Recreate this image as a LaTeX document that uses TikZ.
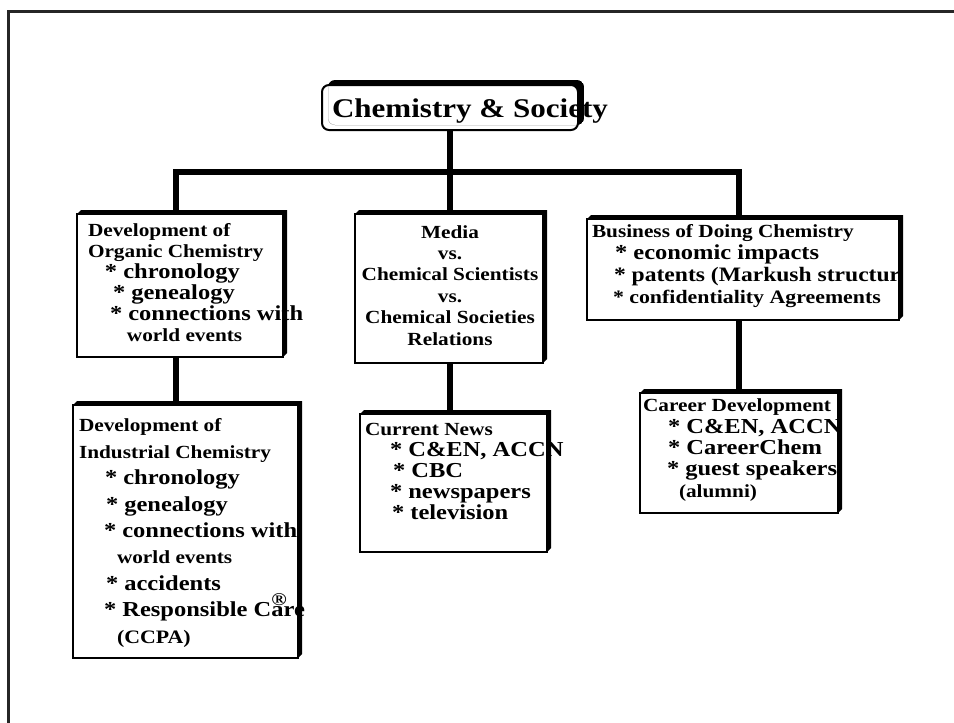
\documentclass[tikz,border=0pt]{standalone}
\usepackage{fontspec}
\setmainfont{Liberation Serif}[FakeStretch=1.15]
\newdimen\myls
\newcommand\setls[1]{\global\myls=#1\relax}
\newcommand\hdf{\fontsize{18.5pt}{\myls}\selectfont}
\newcommand\itf{\fontsize{21.3pt}{\myls}\selectfont}
\newcommand\boxedge[1]{%
  \fill[black] (#1.north west) -- ([shift={(4,-4)}]#1.north west) -- ([shift={(4,-4)}]#1.north east)
     -- ([shift={(4,-4)}]#1.south east) -- (#1.south east) -- (#1.north east) -- cycle;
  \draw[line width=2pt] (#1.north west) rectangle (#1.south east);}
\tikzset{
  conn/.style={line width=6pt, line join=miter},
  boxbg/.style={fill=white, draw=none, inner sep=0pt, outer sep=0pt, anchor=north west},
  txt/.style={inner sep=0pt, outer sep=0pt, align=left, anchor=base west},
}
\begin{document}
\begin{tikzpicture}[x=1pt,y=-1pt]
\useasboundingbox (0,0) rectangle (954,723);
% outer frame
\draw[line width=3pt, black!85] (954,11.5) -- (8,11.5) -- (8,723);

% boxes
\node[boxbg, rounded corners=7pt, minimum width=256pt, minimum height=45pt] (title) at (322,85) {};
\node[boxbg, minimum width=206pt, minimum height=143pt] (org) at (77,214) {};
\node[boxbg, minimum width=188pt, minimum height=149pt] (media) at (355,214) {};
\node[boxbg, minimum width=312pt, minimum height=101pt] (biz) at (587,219) {};
\node[boxbg, minimum width=225pt, minimum height=253pt] (ind) at (73,405) {};
\node[boxbg, minimum width=187pt, minimum height=138pt] (news) at (360,414) {};
\node[boxbg, minimum width=198pt, minimum height=120pt] (career) at (640,393) {};

% connectors
\coordinate (hub) at (450,172);
\coordinate (hubL) at (176,172);
\coordinate (hubR) at (739,172);
\draw[conn] (title.south) -- (hub);
\draw[conn] (hubL |- org.north) -- (hubL) -- (hubR) -- (hubR |- biz.north);
\draw[conn] (hub) -- (hub |- media.north);
\draw[conn] (org.south -| hubL) -- (ind.north -| hubL);
\draw[conn] (media.south -| hub) -- (news.north -| hub);
\draw[conn] (biz.south -| hubR) -- (career.north -| hubR);

% texts (anchored at the baseline of their last line)
\node[txt, font=\bfseries\fontsize{27pt}{30pt}\selectfont] (titletxt) at (332,117) {Chemistry \& Society};

\setls{21pt}
\node[txt, font=\bfseries\hdf] (orgtxt) at (88,341.5) {%
Development of\\
Organic Chemistry\\
\hspace*{17pt}{\itf * chronology}\\
\hspace*{25pt}{\itf * genealogy}\\
\hspace*{22pt}{\itf * connections with}\\
\hspace*{39pt}world events};

\setls{21.4pt}
\node[txt, align=center, anchor=base, font=\bfseries\hdf] (mediatxt) at (450,345) {%
Media\\ vs.\\ Chemical Scientists\\ vs.\\ Chemical Societies\\ Relations};

\setls{22pt}
\begin{scope}
\clip (580,200) rectangle (902,330);
\node[txt, font=\bfseries\hdf] (biztxt) at (592,303) {%
Business of Doing Chemistry\\
\hspace*{23pt}{\itf * economic impacts}\\
\hspace*{22pt}{\fontsize{20.5pt}{\myls}\selectfont * patents (Markush structure}\\
\hspace*{21pt}{\fontsize{19pt}{\myls}\selectfont * confidentiality Agreements}};
\end{scope}

\setls{26.4pt}
\node[txt, font=\bfseries\hdf] (indtxt) at (79,643) {%
Development of\\
Industrial Chemistry\\
\hspace*{26pt}{\itf * chronology}\\
\hspace*{27pt}{\itf * genealogy}\\
\hspace*{25pt}{\itf * connections with}\\
\hspace*{38pt}world events\\
\hspace*{27pt}{\itf * accidents}\\
\hspace*{25pt}{\itf * Responsible Care}\\
\hspace*{38pt}{\fontsize{19pt}{\myls}\selectfont (CCPA)}};
\node[inner sep=0pt, font=\bfseries\fontsize{18pt}{18pt}\selectfont] (reg) at (279,600) {\textregistered};

\setls{20.8pt}
\node[txt, font=\bfseries\hdf] (newstxt) at (365,519) {%
Current News\\
\hspace*{25pt}{\itf * C\&EN, ACCN}\\
\hspace*{28pt}{\itf * CBC}\\
\hspace*{25pt}{\itf * newspapers}\\
\hspace*{27pt}{\itf * television}};

\setls{21.3pt}
\node[txt, font=\bfseries\hdf] (careertxt) at (643,497) {%
Career Development\\
\hspace*{25pt}{\itf * C\&EN, ACCN}\\
\hspace*{25pt}{\itf * CareerChem}\\
\hspace*{24pt}{\itf * guest speakers}\\
\hspace*{36pt}(alumni)};

% box edges and shadows over the text
\begin{scope}
\clip[rounded corners=7pt] ([shift={(6,-5)}]title.north west) rectangle ([shift={(6,-5)}]title.south east);
\fill[even odd rule, rounded corners=7pt] ([shift={(6,-5)}]title.north west) rectangle ([shift={(6,-5)}]title.south east)
  (title.north west) rectangle (title.south east);
\end{scope}
\draw[line width=2pt, rounded corners=7pt] (title.north west) rectangle (title.south east);
\boxedge{org}
\boxedge{media}
\boxedge{biz}
\boxedge{ind}
\boxedge{news}
\boxedge{career}
\end{tikzpicture}
\end{document}
